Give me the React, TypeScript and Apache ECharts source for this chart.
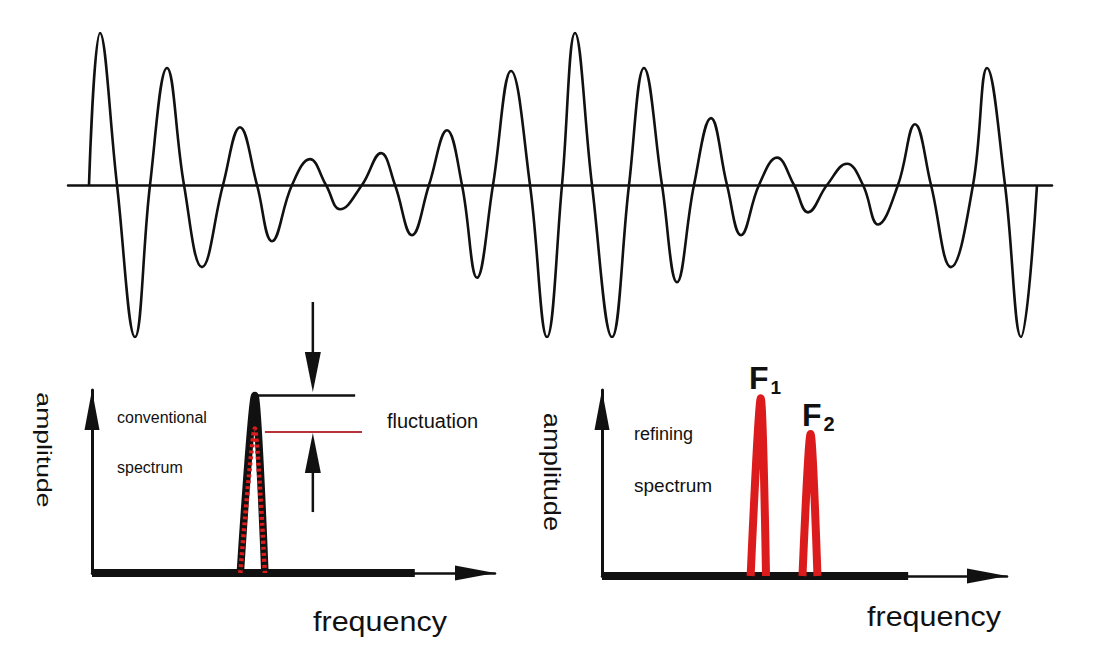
import React, { useEffect, useRef } from 'react';
import * as echarts from 'echarts';

// ---- Top waveform (beat signal): positions of extrema / zero crossings and amplitudes ----
const waveTime = [2.1, 3.2, 4.9, 6.7, 8.2, 9.9, 11.6, 13.4, 15.5, 17.2, 18.9, 20.4, 22.4, 24.2, 25.8, 27.2, 29.4, 31.3, 32.7, 34.4, 36.1, 37.9, 39.4, 40.9, 42.5, 44.3, 46.2, 47.9, 49.4, 50.7, 52.4, 54.4, 56.1, 57.6, 59.4, 60.9, 62.6, 64.3, 65.9, 67.3, 69.1, 70.9, 72.6, 74.0, 75.9, 77.9, 79.5, 81.0, 83.0, 84.7, 86.3, 88.3, 90.5, 91.9, 93.7, 95.3, 96.9];
const waveAmp = [0, 1.0, 0, -1.0, 0, 0.77, 0, -0.54, 0, 0.38, 0, -0.37, 0, 0.17, 0, -0.16, 0, 0.21, 0, -0.33, 0, 0.36, 0, -0.61, 0, 0.75, 0, -1.0, 0, 1.0, 0, -1.0, 0, 0.77, 0, -0.64, 0, 0.44, 0, -0.33, 0, 0.18, 0, -0.18, 0, 0.14, 0, -0.26, 0, 0.40, 0, -0.54, 0, 0.77, 0, -1.0, 0];

// ---- Conventional spectrum ----
const convFreq = [36.8, 40.4, 42.9];
const convAmp = [0, 97, 0];
const convAmpRed = [0, 79, 0];
const convBaseFreq = [0, 80.1];
const fluctTopFreq = [41.2, 65.3];
const fluctTopLevel = 97;
const fluctLowFreq = [42.9, 67.0];
const fluctLowLevel = 77;
const fluctArrowFreq = 54.8;
const arrowDown = [148.1, 109.8];
const arrowUp = [33.3, 65.6];

// ---- Refining spectrum ----
const f1Freq = [36.7, 39.2, 40.5];
const f1Amp = [0, 95.5, 0];
const f2Freq = [49.5, 51.5, 53.2];
const f2Amp = [0, 76.3, 0];
const refBaseFreq = [0, 75.6];

const FONT = '"Liberation Sans", Arial, Helvetica, sans-serif';
const BLACK = '#111111';
const RED = '#dc1c1c';
const DARKRED = '#b8323a';

const zip = (xs: number[], ys: number[]) => xs.map((x, i) => [x, ys[i]]);

function buildOption() {
  const hiddenAxisBits = {
    axisTick: { show: false },
    axisLabel: { show: false },
    splitLine: { show: false },
  };
  const arrowAxisLine = (w: number) => ({
    show: true,
    onZero: true,
    symbol: ['none', 'triangle'],
    symbolSize: [15, 40],
    symbolOffset: [0, -20],
    lineStyle: { color: BLACK, width: w },
  });

  const text = (t: string, x: number, y: number, size: number, extra: any = {}) => ({
    type: 'text',
    x,
    y,
    ...extra,
    style: {
      text: t,
      fill: BLACK,
      fontSize: size,
      fontFamily: FONT,
      textAlign: extra.align || 'left',
      align: extra.align || 'left',
      textVerticalAlign: 'middle',
      verticalAlign: 'middle',
    },
  });

  const fLabel = (sub: string, x: number, y: number, subSize: number) => ({
    type: 'text',
    x,
    y,
    style: {
      text: `{a|F}{b|${sub}}`,
      fill: BLACK,
      fontFamily: FONT,
      textAlign: 'left',
      align: 'left',
      textVerticalAlign: 'middle',
      verticalAlign: 'middle',
      rich: {
        a: { fontSize: 32, fontWeight: 'bold', fontFamily: FONT, lineHeight: 38, fill: BLACK },
        b: { fontSize: subSize, fontWeight: 'bold', fontFamily: FONT, lineHeight: subSize, verticalAlign: 'bottom', padding: [0, 0, 0, 2], fill: BLACK },
      },
    },
  });

  const lineS = (x: number, y: number, data: any[], color: string, width: number, extra: any = {}) => ({
    type: 'line',
    xAxisIndex: x,
    yAxisIndex: y,
    data,
    symbol: 'none',
    silent: true,
    animation: false,
    lineStyle: { color, width, join: 'round', cap: 'butt', ...(extra.lineStyle || {}) },
    ...Object.fromEntries(Object.entries(extra).filter(([k]) => k !== 'lineStyle')),
  });

  const arrowSeries = (from: number, to: number, rotate: number) => ({
    type: 'line',
    xAxisIndex: 1,
    yAxisIndex: 1,
    clip: false,
    silent: true,
    symbol: 'triangle',
    showSymbol: true,
    showAllSymbol: true,
    itemStyle: { color: BLACK },
    lineStyle: { color: BLACK, width: 2.5 },
    data: [
      { value: [fluctArrowFreq, from], symbol: 'none' },
      { value: [fluctArrowFreq, to], symbol: 'triangle', symbolSize: [16, 40], symbolRotate: rotate },
    ],
  });

  return {
    animation: false,
    backgroundColor: '#ffffff',
    grid: [
      { left: 68, top: 33, width: 984, height: 304 },
      { left: 92, top: 390, width: 403, height: 183 },
      { left: 602, top: 390, width: 405, height: 186 },
    ],
    xAxis: [
      {
        type: 'value', gridIndex: 0, min: 0, max: 98.4,
        axisLine: { show: true, onZero: true, lineStyle: { color: BLACK, width: 2.5 } },
        ...hiddenAxisBits,
      },
      { type: 'value', gridIndex: 1, min: 0, max: 100, axisLine: arrowAxisLine(2.5), ...hiddenAxisBits },
      { type: 'value', gridIndex: 2, min: 0, max: 100, axisLine: arrowAxisLine(2.5), ...hiddenAxisBits },
    ],
    yAxis: [
      { type: 'value', gridIndex: 0, min: -1, max: 1, axisLine: { show: false }, ...hiddenAxisBits },
      { type: 'value', gridIndex: 1, min: 0, max: 100, axisLine: arrowAxisLine(3), ...hiddenAxisBits },
      { type: 'value', gridIndex: 2, min: 0, max: 100, axisLine: arrowAxisLine(3), ...hiddenAxisBits },
    ],
    series: [
      lineS(0, 0, zip(waveTime, waveAmp), BLACK, 2.6, { smooth: 0.42, name: 'signal' }),
      // conventional spectrum
      lineS(1, 1, zip(convBaseFreq, [0, 0]), BLACK, 8, { name: 'conventional baseline' }),
      lineS(1, 1, zip(convFreq, convAmp), BLACK, 7.5, { name: 'conventional peak', smooth: 0.25 }),
      lineS(1, 1, zip(convFreq, convAmpRed), RED, 4.5, { name: 'conventional peak (fluctuated)', smooth: 0.2, lineStyle: { type: [3, 3] } }),
      lineS(1, 1, zip(fluctTopFreq, [fluctTopLevel, fluctTopLevel]), BLACK, 2.5, { name: 'upper level' }),
      lineS(1, 1, zip(fluctLowFreq, [fluctLowLevel, fluctLowLevel]), DARKRED, 2, { name: 'lower level' }),
      arrowSeries(arrowDown[0], arrowDown[1], 180),
      arrowSeries(arrowUp[0], arrowUp[1], 0),
      // refining spectrum
      lineS(2, 2, zip(refBaseFreq, [0, 0]), BLACK, 8, { name: 'refining baseline' }),
      lineS(2, 2, zip(f1Freq, f1Amp), RED, 8, { name: 'F1', smooth: 0.3 }),
      lineS(2, 2, zip(f2Freq, f2Amp), RED, 8, { name: 'F2', smooth: 0.3 }),
    ],
    graphic: [
      text('conventional', 117, 417, 16),
      text('spectrum', 117, 467, 16),
      text('fluctuation', 387, 421, 20),
      text('frequency', 380, 622, 27, { align: 'center', scaleX: 1.13 }),
      text('amplitude', 44, 450, 20, { align: 'center', rotation: -Math.PI / 2, scaleX: 1.33 }),
      text('refining', 634, 434, 18),
      text('spectrum', 634, 485, 19),
      text('frequency', 934, 617, 27, { align: 'center', scaleX: 1.13 }),
      text('amplitude', 552, 472, 23, { align: 'center', rotation: -Math.PI / 2, scaleX: 1.19 }),
      fLabel('1', 749, 378, 19),
      fLabel('2', 802, 415, 20),
    ],
  };
}

export default function App() {
  const ref = useRef<HTMLDivElement>(null);
  useEffect(() => {
    if (!ref.current) return;
    const chart = echarts.init(ref.current, null, { renderer: 'svg' });
    chart.setOption(buildOption() as any);
    return () => chart.dispose();
  }, []);
  return (
    <div
      ref={ref}
      style={{ position: 'fixed', left: 0, top: 0, width: 1118, height: 668, background: '#ffffff' }}
    />
  );
}
